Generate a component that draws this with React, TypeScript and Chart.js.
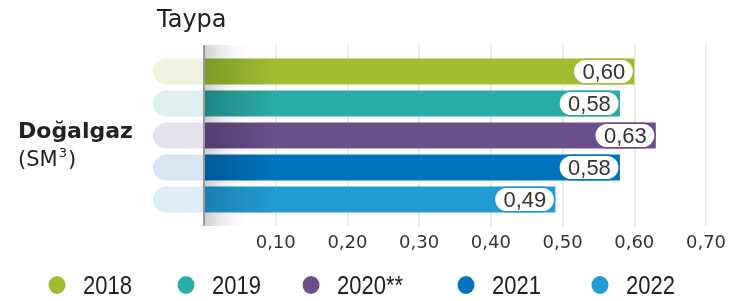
import { useEffect, useRef } from 'react';
import { Chart, registerables } from 'chart.js';

Chart.register(...registerables);

const categories = ['Doğalgaz'];
const seriesLabels = ['2018', '2019', '2020**', '2021', '2022'];
const values2018 = [0.6];
const values2019 = [0.58];
const values2020 = [0.63];
const values2021 = [0.58];
const values2022 = [0.49];
const seriesValues = [values2018, values2019, values2020, values2021, values2022];
const colors = ['#a1bc30', '#2aaca6', '#6c4f8a', '#0074bd', '#219bd1'];
const darkColors = ['#7e9a27', '#1f8583', '#543d70', '#005a98', '#1b7fb0'];
const trackColors = ['#eef2df', '#ddf0ee', '#e6e2ec', '#d8e6f3', '#dcedf6'];
const titleText = 'Taypa';
const unitMain = '(SM';
const unitSup = '3';
const axisMin = 0;
const axisMax = 0.7;
const axisStep = 0.1;

const legendX = [57, 186, 311, 466, 600];

const fmt = (v: number) => v.toFixed(2).replace('.', ',');

const decorPlugin = {
  id: 'decor',
  beforeDatasetsDraw(chart: any) {
    const { ctx, chartArea: a } = chart;
    ctx.save();
    const g = ctx.createLinearGradient(a.left, 0, a.left + 50, 0);
    g.addColorStop(0, 'rgba(200,200,200,0.9)');
    g.addColorStop(1, 'rgba(255,255,255,0)');
    ctx.fillStyle = g;
    ctx.fillRect(a.left, a.top, 50, a.bottom - a.top);
    chart.data.datasets.forEach((_: any, i: number) => {
      const meta = chart.getDatasetMeta(i);
      meta.data.forEach((el: any) => {
        const h = el.height;
        const y = el.y - h / 2;
        const left = a.left - 51;
        ctx.fillStyle = trackColors[i];
        ctx.beginPath();
        ctx.roundRect(left, y, a.left - left, h, [h / 2, 0, 0, h / 2]);
        ctx.fill();
      });
    });
    ctx.restore();
  },
  afterDatasetsDraw(chart: any) {
    const { ctx, chartArea: a } = chart;
    ctx.save();
    chart.data.datasets.forEach((ds: any, i: number) => {
      const meta = chart.getDatasetMeta(i);
      meta.data.forEach((el: any, j: number) => {
        const h = el.height - 1.5;
        const w = 61;
        const x = el.x - w;
        const y = el.y - h / 2;
        ctx.beginPath();
        ctx.roundRect(x, y, w - 0.75, h, h / 2);
        ctx.fillStyle = '#ffffff';
        ctx.fill();
        ctx.lineWidth = 1.5;
        ctx.strokeStyle = colors[i];
        ctx.stroke();
        ctx.fillStyle = '#333333';
        ctx.font = '22px "Liberation Sans", Arial, sans-serif';
        ctx.textAlign = 'center';
        ctx.textBaseline = 'middle';
        ctx.fillText(fmt(ds.data[j]), x + w / 2, el.y + 1);
      });
    });
    ctx.strokeStyle = '#9a9a9a';
    ctx.lineWidth = 2;
    ctx.beginPath();
    ctx.moveTo(a.left, a.top);
    ctx.lineTo(a.left, a.bottom);
    ctx.stroke();
    ctx.restore();
  },
  afterDraw(chart: any) {
    const { ctx } = chart;
    ctx.save();
    ctx.fillStyle = '#222222';
    ctx.textAlign = 'left';
    ctx.textBaseline = 'alphabetic';
    ctx.font = '24px "DejaVu Sans", sans-serif';
    ctx.fillText(titleText, 157, 27);
    ctx.font = 'bold 22px "DejaVu Sans", sans-serif';
    ctx.fillText(categories[0], 18, 138);
    ctx.font = '21px "DejaVu Sans", sans-serif';
    ctx.fillText(unitMain, 18, 166);
    const w1 = ctx.measureText(unitMain).width;
    ctx.font = '13px "DejaVu Sans", sans-serif';
    ctx.fillText(unitSup, 18 + w1 + 1, 157);
    const w2 = ctx.measureText(unitSup).width;
    ctx.font = '21px "DejaVu Sans", sans-serif';
    ctx.fillText(')', 18 + w1 + w2 + 2, 166);
    seriesLabels.forEach((lab, i) => {
      const cx = legendX[i];
      ctx.fillStyle = colors[i];
      ctx.beginPath();
      ctx.ellipse(cx, 285, 8.5, 9, 0, 0, Math.PI * 2);
      ctx.fill();
      ctx.fillStyle = '#222222';
      ctx.font = '25px "Liberation Sans", sans-serif';
      ctx.save();
      ctx.translate(cx + 26, 294);
      ctx.scale(0.88, 1);
      ctx.fillText(lab, 0, 0);
      ctx.restore();
    });
    ctx.restore();
  },
};

export default function App() {
  const ref = useRef<HTMLCanvasElement>(null);
  useEffect(() => {
    if (!ref.current) return;
    const chart = new Chart(ref.current, {
      type: 'bar',
      data: {
        labels: categories,
        datasets: seriesLabels.map((lab, i) => ({
          label: lab,
          data: seriesValues[i],
          backgroundColor: (c: any) => {
            const a = c.chart.chartArea;
            if (!a) return colors[i];
            const g = c.chart.ctx.createLinearGradient(a.left, 0, a.left + 70, 0);
            g.addColorStop(0, darkColors[i]);
            g.addColorStop(1, colors[i]);
            return g;
          },
          borderWidth: 0,
          borderSkipped: false,
          categoryPercentage: 0.884,
          barPercentage: 0.8125,
        })),
      },
      options: {
        indexAxis: 'y',
        responsive: false,
        animation: false,
        devicePixelRatio: 1,
        layout: { padding: { left: 204, right: 24, top: 45, bottom: 0 } },
        plugins: { legend: { display: false }, tooltip: { enabled: false } },
        scales: {
          y: { display: false },
          x: {
            min: axisMin,
            max: axisMax,
            afterFit: (s: any) => {
              s.height = 75;
              s.paddingLeft = 0;
              s.paddingRight = 0;
            },
            grid: { color: '#e6e6e6', lineWidth: 1.5, drawTicks: false },
            border: { display: false },
            ticks: {
              stepSize: axisStep,
              padding: 7,
              color: '#333333',
              font: { family: '"DejaVu Sans", sans-serif', size: 18 },
              callback: (v: any) => (Number(v) === 0 ? '' : fmt(Number(v))),
            },
          },
        },
      },
      plugins: [decorPlugin],
    } as any);
    return () => chart.destroy();
  }, []);
  return (
    <div style={{ position: 'absolute', left: 0, top: 0, width: 730, height: 301 }}>
      <canvas ref={ref} width={730} height={301} />
    </div>
  );
}
